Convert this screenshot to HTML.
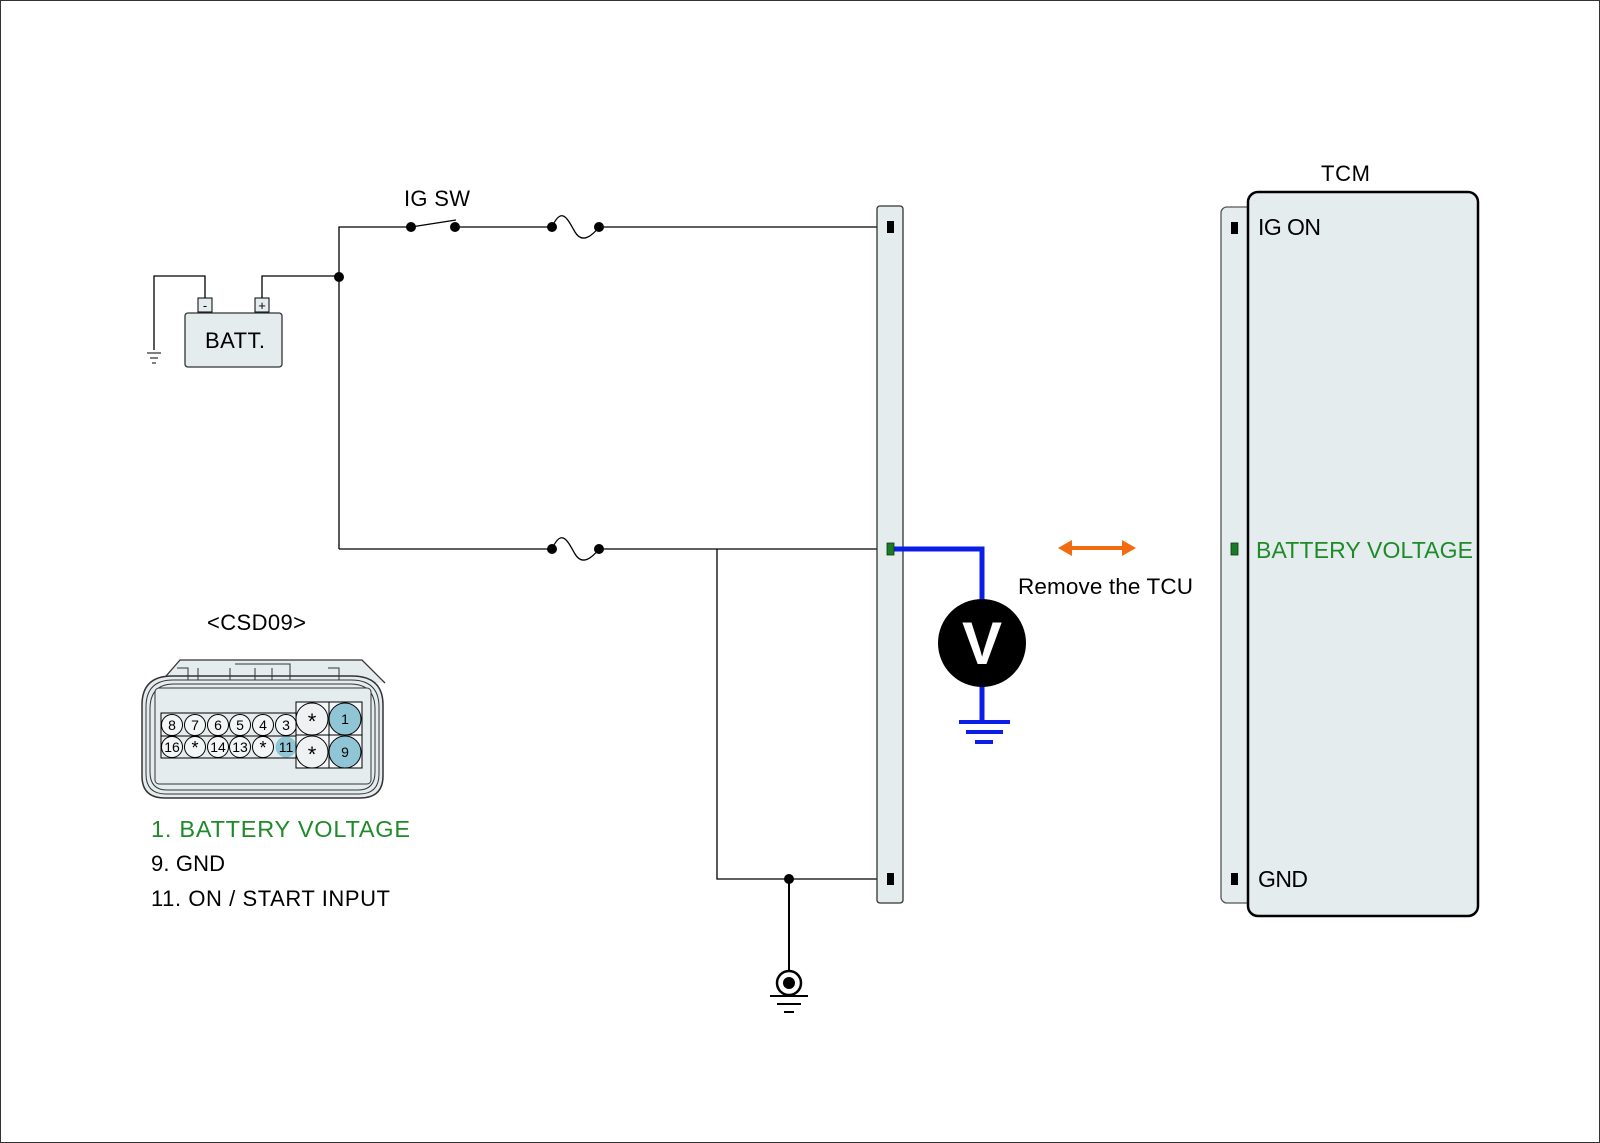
<!DOCTYPE html>
<html><head><meta charset="utf-8"><style>
html,body{margin:0;padding:0;background:#fff}
svg{display:block}
text{font-family:"Liberation Sans",Arial,sans-serif}
</style></head><body>
<svg width="1600" height="1143" viewBox="0 0 1600 1143" xmlns="http://www.w3.org/2000/svg">
<rect x="0.5" y="0.5" width="1599" height="1142" fill="#fff" stroke="#333" stroke-width="1"/>

<!-- battery -->
<path d="M154 350 V276 H205 V298" fill="none" stroke="#000" stroke-width="1.3"/>
<path d="M262 298 V276 H339" fill="none" stroke="#000" stroke-width="1.3"/>
<line x1="147" y1="353" x2="161" y2="353" stroke="#000"/>
<line x1="150" y1="358" x2="158" y2="358" stroke="#000"/>
<line x1="152" y1="363" x2="156" y2="363" stroke="#000"/>
<rect x="198" y="298" width="14" height="14" fill="#e4ecee" stroke="#000"/>
<text x="205" y="310" font-size="13" text-anchor="middle">-</text>
<rect x="255" y="298" width="14" height="14" fill="#e4ecee" stroke="#000"/>
<text x="262" y="310" font-size="13" text-anchor="middle">+</text>
<rect x="185" y="313" width="97" height="54" rx="3" fill="#e4ecee" stroke="#333" stroke-width="1.3"/>
<text x="205" y="348" font-size="22" textLength="60">BATT.</text>

<!-- top wire -->
<path d="M339 549 V227 H411" fill="none" stroke="#000" stroke-width="1.3"/>
<circle cx="339" cy="277" r="5" fill="#000"/>
<circle cx="411" cy="227" r="5" fill="#000"/>
<circle cx="455" cy="227" r="5" fill="#000"/>
<line x1="411" y1="227" x2="456" y2="220" stroke="#000" stroke-width="1.3"/>
<text x="404" y="206" font-size="22" textLength="66">IG SW</text>
<line x1="455" y1="227" x2="552" y2="227" stroke="#000" stroke-width="1.3"/>
<circle cx="552" cy="227" r="5" fill="#000"/>
<circle cx="599" cy="227" r="5" fill="#000"/>
<path d="M552 227 C562 205,568 220,575 232 C582 244,592 236,599 227" fill="none" stroke="#000" stroke-width="1.3"/>
<line x1="599" y1="227" x2="890" y2="227" stroke="#000" stroke-width="1.3"/>

<!-- bottom wire -->
<line x1="339" y1="549" x2="552" y2="549" stroke="#000" stroke-width="1.3"/>
<circle cx="552" cy="549" r="5" fill="#000"/>
<circle cx="599" cy="549" r="5" fill="#000"/>
<path d="M552 549 C562 527,568 542,575 554 C582 566,592 558,599 549" fill="none" stroke="#000" stroke-width="1.3"/>
<line x1="599" y1="549" x2="890" y2="549" stroke="#000" stroke-width="1.3"/>
<path d="M717 549 V879 H890" fill="none" stroke="#000" stroke-width="1.3"/>
<circle cx="789" cy="879" r="5" fill="#000"/>
<line x1="789" y1="879" x2="789" y2="971" stroke="#000" stroke-width="2"/>
<circle cx="789" cy="983" r="12" fill="#fff" stroke="#000" stroke-width="2.5"/>
<circle cx="789" cy="983" r="6" fill="#000"/>
<line x1="770" y1="996" x2="808" y2="996" stroke="#000" stroke-width="2"/>
<line x1="777" y1="1004" x2="801" y2="1004" stroke="#000" stroke-width="2"/>
<line x1="784" y1="1012" x2="794" y2="1012" stroke="#000" stroke-width="2"/>

<!-- connector bar -->
<rect x="877" y="206" width="26" height="697" rx="3" fill="#e4ecee" stroke="#333" stroke-width="1.3"/>
<rect x="887" y="221" width="7" height="12" fill="#000"/>
<rect x="887" y="873" width="7" height="12" fill="#000"/>

<!-- voltmeter -->
<path d="M890 549 H982 V720" fill="none" stroke="#0a1ee8" stroke-width="5"/>
<rect x="887" y="543" width="7" height="12" fill="#1a7a2a" stroke="#0a3a10" stroke-width="0.8"/>
<circle cx="982" cy="643" r="44" fill="#000"/>
<text x="982" y="664" font-size="60" font-weight="bold" fill="#fff" text-anchor="middle">V</text>
<line x1="959" y1="722" x2="1010" y2="722" stroke="#0a1ee8" stroke-width="4"/>
<line x1="966" y1="732" x2="1003" y2="732" stroke="#0a1ee8" stroke-width="4"/>
<line x1="975" y1="742" x2="993" y2="742" stroke="#0a1ee8" stroke-width="4"/>

<!-- arrow -->
<line x1="1068" y1="548" x2="1126" y2="548" stroke="#f26b10" stroke-width="4"/>
<polygon points="1058,548 1072,540 1072,556" fill="#f26b10"/>
<polygon points="1136,548 1122,540 1122,556" fill="#f26b10"/>
<text x="1018" y="594" font-size="22.5" textLength="175">Remove the TCU</text>

<!-- TCM -->
<rect x="1221" y="207" width="32" height="696" rx="6" fill="#e4ecee" stroke="#555" stroke-width="1.3"/>
<rect x="1248" y="192" width="230" height="724" rx="10" fill="#e4ecee" stroke="#000" stroke-width="2.5"/>
<text x="1321" y="181" font-size="22" textLength="49">TCM</text>
<rect x="1231" y="222" width="7" height="12" fill="#000"/>
<rect x="1231" y="543" width="7" height="12" fill="#1a7a2a" stroke="#0a3a10" stroke-width="0.8"/>
<rect x="1231" y="873" width="7" height="12" fill="#000"/>
<text x="1258" y="235" font-size="23" textLength="63">IG ON</text>
<text x="1256" y="558" font-size="23" fill="#1f8a2a" textLength="217">BATTERY VOLTAGE</text>
<text x="1258" y="887" font-size="23" textLength="50">GND</text>

<!-- CSD09 connector -->
<text x="207" y="630" font-size="22" textLength="99">&lt;CSD09&gt;</text>
<path d="M160 683 L180 660 H362 L385 683" fill="#e4ecee" stroke="#333" stroke-width="1.3"/>
<path d="M142 705 Q142 676 172 676 H352 Q383 676 383 705 V776 Q383 798 360 798 H165 Q142 798 142 776 Z" fill="#e4ecee" stroke="#333" stroke-width="1.5"/>
<path d="M146 707 Q146 680 173 680 H351 Q379 680 379 707 V774 Q379 794 359 794 H166 Q146 794 146 774 Z" fill="none" stroke="#333" stroke-width="1"/>
<path d="M150 709 Q150 684 174 684 H350 Q375 684 375 709 V772 Q375 790 358 790 H167 Q150 790 150 772 Z" fill="none" stroke="#333" stroke-width="1"/>
<rect x="155" y="688" width="216" height="96" rx="4" fill="#e4ecee" stroke="#333" stroke-width="1"/>
<path d="M177 668 H188 V680 H198 V668" fill="none" stroke="#333"/>
<path d="M328 668 H339 V680 H329" fill="none" stroke="#333"/>
<path d="M230 668 V680 M235 664 H290 V680 M255 668 V680 M272 668 V680" fill="none" stroke="#333"/>
<g stroke="#000" stroke-width="1">
<rect x="161" y="713" width="136" height="45" fill="none"/>
<line x1="161" y1="736" x2="297" y2="736"/>
</g>
<g font-size="14" text-anchor="middle">
<g fill="#f2f6f7" stroke="#000" stroke-width="1">
<circle cx="172" cy="725" r="10.5"/><circle cx="195" cy="725" r="10.5"/><circle cx="218" cy="725" r="10.5"/><circle cx="240" cy="725" r="10.5"/><circle cx="263" cy="725" r="10.5"/><circle cx="286" cy="725" r="10.5"/>
<circle cx="172" cy="747" r="10.5"/><circle cx="195" cy="747" r="10.5"/><circle cx="218" cy="747" r="10.5"/><circle cx="240" cy="747" r="10.5"/><circle cx="263" cy="747" r="10.5"/>
</g>
<circle cx="286" cy="747" r="10.5" fill="#8fc5d4"/>
<text x="172" y="730">8</text><text x="195" y="730">7</text><text x="218" y="730">6</text><text x="240" y="730">5</text><text x="263" y="730">4</text><text x="286" y="730">3</text>
<text x="172" y="752">16</text><text x="195" y="754" font-size="18">*</text><text x="218" y="752">14</text><text x="240" y="752">13</text><text x="263" y="754" font-size="18">*</text><text x="286" y="752">11</text>
<rect x="296" y="702" width="66" height="66" fill="#f2f6f7" stroke="#000"/>
<line x1="329" y1="702" x2="329" y2="768" stroke="#000"/>
<line x1="296" y1="735" x2="362" y2="735" stroke="#000"/>
<circle cx="312" cy="719" r="16" fill="#eef2f3" stroke="#000"/>
<circle cx="345" cy="719" r="16" fill="#8fc5d4" stroke="#000"/>
<circle cx="312" cy="752" r="16" fill="#eef2f3" stroke="#000"/>
<circle cx="345" cy="752" r="16" fill="#8fc5d4" stroke="#000"/>
<text x="312" y="729" font-size="22">*</text><text x="345" y="724">1</text>
<text x="312" y="762" font-size="22">*</text><text x="345" y="757">9</text>
</g>
<text x="151" y="837" font-size="23.5" fill="#1f8a2a" textLength="259">1. BATTERY VOLTAGE</text>
<text x="151" y="871" font-size="22" textLength="74">9. GND</text>
<text x="151" y="906" font-size="22" textLength="239">11. ON / START INPUT</text>
</svg>
</body></html>
